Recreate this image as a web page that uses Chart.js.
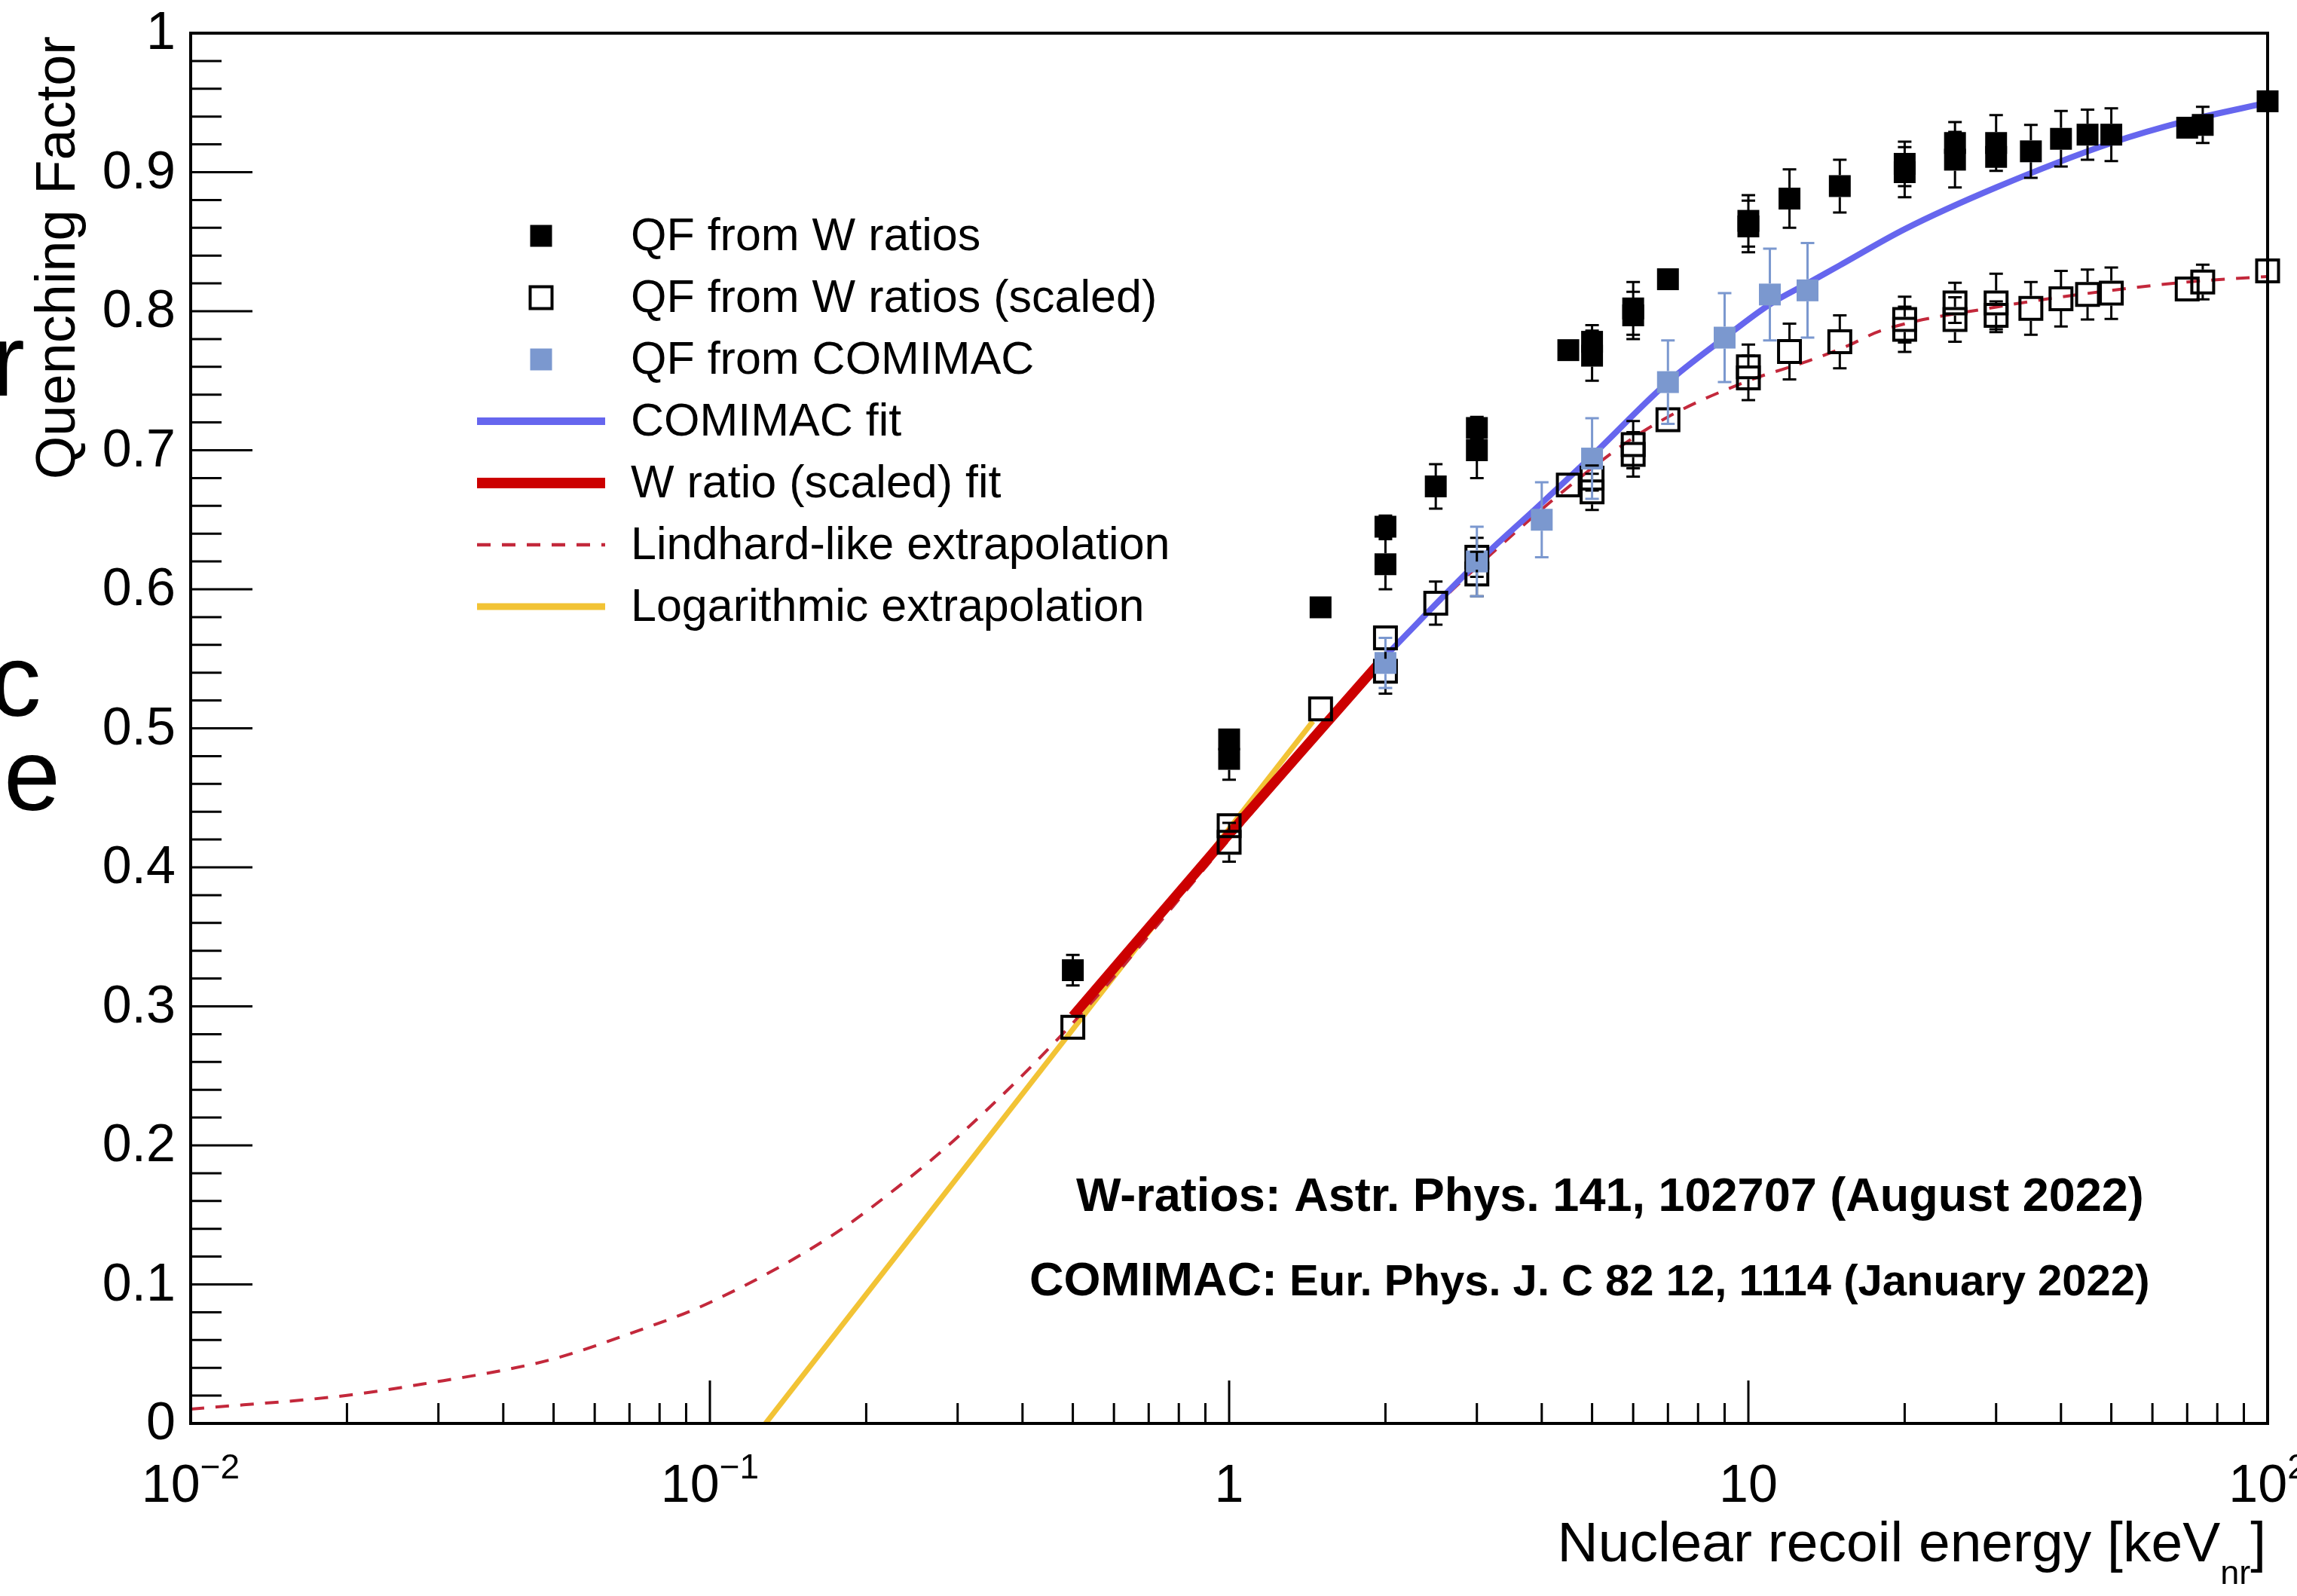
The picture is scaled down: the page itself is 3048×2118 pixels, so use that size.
<!DOCTYPE html>
<html>
<head>
<meta charset="utf-8">
<title>Quenching Factor</title>
<script src="https://cdn.jsdelivr.net/npm/chart.js@4.4.1/dist/chart.umd.min.js"></script>
<style>
  html, body { margin: 0; padding: 0; background: #fff; }
  canvas { display: block; }
</style>
</head>
<body>
<canvas id="qf" width="3048" height="2118"></canvas>
<script>
// recoil energies of the W-ratio points [keVnr]
const wEnergy = [0.5, 1, 1, 1.5, 2, 2, 2.5, 3, 3, 4.5, 5, 5, 6, 6, 7, 10, 10, 12, 15, 20, 20, 25, 25, 30, 30, 35, 40, 45, 50, 70, 75, 100];
const wRatioQF = [0.326, 0.492, 0.478, 0.587, 0.645, 0.618, 0.674, 0.716, 0.700, 0.772, 0.778, 0.768, 0.802, 0.797, 0.823, 0.865, 0.861, 0.881, 0.890, 0.906, 0.900, 0.921, 0.909, 0.921, 0.911, 0.915, 0.924, 0.927, 0.927, 0.932, 0.934, 0.951];
const wRatioErr = [0.011, 0.006, 0.015, 0, 0.008, 0.018, 0.016, 0.008, 0.02, 0, 0.012, 0.018, 0.019, 0.017, 0, 0.0185, 0.0186, 0.021, 0.019, 0.016, 0.018, 0.015, 0.02, 0.02, 0.01, 0.019, 0.02, 0.018, 0.019, 0, 0.013, 0];
const wScaledQF = [0.285, 0.430, 0.418, 0.514, 0.565, 0.541, 0.590, 0.623, 0.611, 0.675, 0.680, 0.670, 0.704, 0.697, 0.722, 0.760, 0.752, 0.771, 0.778, 0.794, 0.787, 0.806, 0.794, 0.806, 0.797, 0.802, 0.809, 0.812, 0.813, 0.816, 0.821, 0.829];
const wScaledErr = [0, 0.006, 0.014, 0, 0.006, 0.016, 0.0155, 0.014, 0.016, 0, 0.009, 0.013, 0.017, 0.016, 0, 0.016, 0.016, 0.02, 0.019, 0.0165, 0.0163, 0.0144, 0.016, 0.021, 0.01, 0.019, 0.02, 0.018, 0.0185, 0, 0.0125, 0];

const comimacEnergy = [2, 3, 4, 5, 7, 9, 11, 13];
const comimacQF = [0.547, 0.620, 0.650, 0.694, 0.749, 0.781, 0.812, 0.815];
const comimacErr = [0.018, 0.025, 0.027, 0.029, 0.030, 0.032, 0.033, 0.034];

// fitted curves and extrapolations
const comimacFitEnergy = [2, 3, 4, 5, 7, 9, 11, 13, 15, 20, 30, 50, 70, 100];
const comimacFitQF = [0.552, 0.619, 0.662, 0.696, 0.749, 0.781, 0.805, 0.820, 0.833, 0.859, 0.889, 0.921, 0.937, 0.950];
const wFitEnergy = [0.5, 1, 1.5, 2];
const wFitQF = [0.293, 0.424, 0.499, 0.552];
const lindhardEnergy = [0.01, 0.02, 0.03, 0.04, 0.05, 0.07, 0.1, 0.17, 0.23, 0.3, 0.5, 1, 2, 3, 5.5, 7, 10, 13, 15.5, 18, 30, 50, 70, 100];
const lindhardQF = [0.0103, 0.0202, 0.0302, 0.0383, 0.0464, 0.0645, 0.087, 0.134, 0.170, 0.206, 0.288, 0.420, 0.551, 0.616, 0.699, 0.724, 0.750, 0.764, 0.775, 0.786, 0.803, 0.815, 0.821, 0.825];
const logExtrapEnergy = [0.128, 1.45];
const logExtrapQF = [0, 0.505];

// axis ticks
const yTickValues = [0, 0.1, 0.2, 0.3, 0.4, 0.5, 0.6, 0.7, 0.8, 0.9, 1];
const yTickLabels = ['0', '0.1', '0.2', '0.3', '0.4', '0.5', '0.6', '0.7', '0.8', '0.9', '1'];
const xDecades = [0.01, 0.1, 1, 10, 100];
const xTickBase = ['10', '10', '1', '10', '10'];
const xTickExp = ['\u22122', '\u22121', '', '', '2'];

const FONT = '"Liberation Sans", Arial, Helvetica, sans-serif';
const pts = (xs, ys) => xs.map((x, i) => ({ x, y: ys[i] }));

const rootStyle = {
    id: 'rootStyle',
    afterDatasetsDraw(chart) {
        const { ctx, scales: { x, y } } = chart;
        chart.data.datasets.forEach(ds => {
            if (!ds.err) return;
            const half = ds.pointRadius * Math.SQRT1_2 + (ds.pointBorderWidth || 0) / 2;
            ctx.save();
            ctx.strokeStyle = ds.errColor;
            ctx.lineWidth = 3;
            ctx.beginPath();
            ds.data.forEach((p, i) => {
                const e = ds.err[i];
                if (!e) return;
                const px = x.getPixelForValue(p.x);
                const py = y.getPixelForValue(p.y);
                const hi = y.getPixelForValue(p.y + e);
                const lo = y.getPixelForValue(p.y - e);
                if (py - hi > half) {
                    ctx.moveTo(px, py - half); ctx.lineTo(px, hi);
                    ctx.moveTo(px - 9, hi); ctx.lineTo(px + 9, hi);
                }
                if (lo - py > half) {
                    ctx.moveTo(px, py + half); ctx.lineTo(px, lo);
                    ctx.moveTo(px - 9, lo); ctx.lineTo(px + 9, lo);
                }
            });
            ctx.stroke();
            ctx.restore();
        });
    },
    afterDraw(chart) {
        const { ctx, chartArea: a, scales: { x, y } } = chart;
        ctx.save();
        ctx.strokeStyle = '#000';
        ctx.fillStyle = '#000';

        // ticks, drawn inward
        ctx.lineWidth = 3;
        ctx.beginPath();
        for (let v = 0; v <= 50; v++) {
            const py = y.getPixelForValue(v * 0.02);
            const len = v % 5 === 0 ? 82 : 41;
            ctx.moveTo(a.left, py);
            ctx.lineTo(a.left + len, py);
        }
        xDecades.forEach((d, n) => {
            for (let k = 1; k <= 9; k++) {
                if (n === xDecades.length - 1 && k > 1) break;
                const px = x.getPixelForValue(d * k);
                ctx.moveTo(px, a.bottom);
                ctx.lineTo(px, a.bottom - (k === 1 ? 57 : 27));
            }
        });
        ctx.stroke();

        ctx.lineWidth = 4;
        ctx.strokeRect(a.left, a.top, a.right - a.left, a.bottom - a.top);

        // tick labels
        ctx.font = '70px ' + FONT;
        ctx.textAlign = 'right';
        ctx.textBaseline = 'middle';
        yTickValues.forEach((v, i) => ctx.fillText(yTickLabels[i], a.left - 20, y.getPixelForValue(v) + 2));

        ctx.textAlign = 'left';
        ctx.textBaseline = 'alphabetic';
        xDecades.forEach((v, i) => {
            ctx.font = '70px ' + FONT;
            const wb = ctx.measureText(xTickBase[i]).width;
            ctx.font = '46px ' + FONT;
            const we = xTickExp[i] ? ctx.measureText(xTickExp[i]).width : 0;
            const left = x.getPixelForValue(v) - (wb + we) / 2;
            ctx.font = '70px ' + FONT;
            ctx.fillText(xTickBase[i], left, 1993);
            if (xTickExp[i]) {
                ctx.font = '46px ' + FONT;
                ctx.fillText(xTickExp[i], left + wb, 1962);
            }
        });

        // axis titles
        ctx.font = '75px ' + FONT;
        const t1 = 'Nuclear recoil energy [keV';
        const w1 = ctx.measureText(t1).width;
        const w3 = ctx.measureText(']').width;
        ctx.font = '45px ' + FONT;
        const w2 = ctx.measureText('nr').width;
        let tx = a.right - 2 - (w1 + w2 + w3);
        ctx.font = '75px ' + FONT;
        ctx.fillText(t1, tx, 2072);
        ctx.font = '45px ' + FONT;
        ctx.fillText('nr', tx + w1, 2102);
        ctx.font = '75px ' + FONT;
        ctx.fillText(']', tx + w1 + w2, 2072);

        ctx.save();
        ctx.translate(99, 48);
        ctx.rotate(-Math.PI / 2);
        ctx.textAlign = 'right';
        ctx.font = '74px ' + FONT;
        ctx.fillText('Quenching Factor', 0, 0);
        ctx.restore();

        // legend
        const legendRow = 313, legendStep = 82;
        chart.data.datasets.forEach((ds, i) => {
            const ly = legendRow + i * legendStep;
            if (ds.showLine) {
                ctx.save();
                ctx.strokeStyle = ds.borderColor;
                ctx.lineWidth = ds.legendWidth;
                ctx.setLineDash(ds.borderDash || []);
                ctx.beginPath();
                ctx.moveTo(633, ly);
                ctx.lineTo(803, ly);
                ctx.stroke();
                ctx.restore();
            } else if (ds.pointBorderWidth) {
                ctx.lineWidth = ds.pointBorderWidth;
                ctx.strokeStyle = ds.pointBorderColor;
                ctx.strokeRect(718 - 14.5, ly - 14.5, 29, 29);
            } else {
                ctx.fillStyle = ds.pointBackgroundColor;
                ctx.fillRect(718 - 14.5, ly - 14.5, 29, 29);
            }
            ctx.fillStyle = '#000';
            ctx.font = '61px ' + FONT;
            ctx.textBaseline = 'middle';
            ctx.fillText(ds.label, 837, ly + 2);
        });

        // references
        ctx.textBaseline = 'alphabetic';
        ctx.font = 'bold 63px ' + FONT;
        ctx.fillText('W-ratios: Astr. Phys. 141, 102707 (August 2022)', 1428, 1607);
        ctx.fillText('COMIMAC:', 1366, 1719);
        const wc = ctx.measureText('COMIMAC:').width;
        ctx.font = 'bold 58px ' + FONT;
        ctx.fillText(' Eur. Phys. J. C 82 12, 1114 (January 2022)', 1366 + wc, 1719);

        // letters of the slide text cut at the left border
        ctx.font = '135px ' + FONT;
        ctx.fillText('r', -12, 525);
        ctx.fillText('c', -13, 950);
        ctx.fillText('e', 5, 1075);

        ctx.restore();
    }
};

new Chart(document.getElementById('qf'), {
    type: 'scatter',
    data: {
        datasets: [
            {
                label: 'QF from W ratios',
                data: pts(wEnergy, wRatioQF),
                err: wRatioErr, errColor: '#000',
                pointStyle: 'rect', pointRadius: 20.5,
                pointBackgroundColor: '#000', pointBorderWidth: 0,
                showLine: false, clip: false, order: 2,
            },
            {
                label: 'QF from W ratios (scaled)',
                data: pts(wEnergy, wScaledQF),
                err: wScaledErr, errColor: '#000',
                pointStyle: 'rect', pointRadius: 20.5,
                pointBackgroundColor: 'rgba(0,0,0,0)', pointBorderColor: '#000', pointBorderWidth: 4,
                showLine: false, clip: false, order: 1,
            },
            {
                label: 'QF from COMIMAC',
                data: pts(comimacEnergy, comimacQF),
                err: comimacErr, errColor: '#7b98cf',
                pointStyle: 'rect', pointRadius: 20.5,
                pointBackgroundColor: '#7b98cf', pointBorderWidth: 0,
                showLine: false, clip: false, order: 0,
            },
            {
                label: 'COMIMAC fit',
                data: pts(comimacFitEnergy, comimacFitQF),
                showLine: true, pointRadius: 0, borderColor: '#6666ee', borderWidth: 8, legendWidth: 10,
                cubicInterpolationMode: 'monotone', order: 4,
            },
            {
                label: 'W ratio (scaled) fit',
                data: pts(wFitEnergy, wFitQF),
                showLine: true, pointRadius: 0, borderColor: '#cc0000', borderWidth: 13, legendWidth: 14,
                cubicInterpolationMode: 'monotone', order: 5,
            },
            {
                label: 'Lindhard-like extrapolation',
                data: pts(lindhardEnergy, lindhardQF),
                showLine: true, pointRadius: 0, borderColor: '#c3283b', borderWidth: 4, legendWidth: 4.5,
                borderDash: [18, 15], cubicInterpolationMode: 'monotone', order: 6,
            },
            {
                label: 'Logarithmic extrapolation',
                data: pts(logExtrapEnergy, logExtrapQF),
                showLine: true, pointRadius: 0, borderColor: '#f2c335', borderWidth: 7, legendWidth: 9,
                order: 7,
            },
        ],
    },
    options: {
        responsive: false,
        devicePixelRatio: 1,
        animation: false,
        events: [],
        layout: { padding: { left: 253, top: 44, right: 39, bottom: 229 } },
        scales: {
            x: { type: 'logarithmic', min: 0.01, max: 100, display: false },
            y: { type: 'linear', min: 0, max: 1, display: false },
        },
        plugins: {
            legend: { display: false },
            tooltip: { enabled: false },
        },
    },
    plugins: [rootStyle],
});
</script>
</body>
</html>
